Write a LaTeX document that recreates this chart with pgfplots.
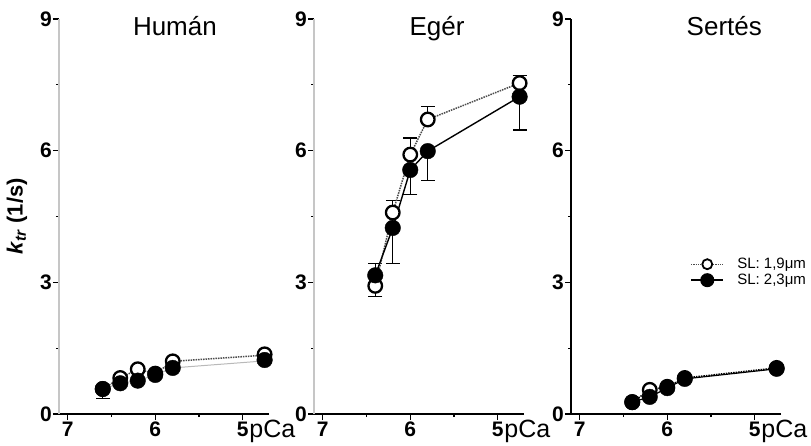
\documentclass[border=0pt]{standalone}
\usepackage{pgfplots}
\pgfplotsset{compat=1.18}
\usepackage{fontspec}
\setmainfont{Liberation Sans}

\tikzset{
  titlestyle/.style={anchor=base, font=\fontsize{26}{26}\selectfont},
  pcastyle/.style={anchor=base west, font=\fontsize{25}{25}\selectfont},
}
\newcommand{\tickfont}{\fontsize{21}{21}\selectfont\bfseries}
\newcommand{\legfont}{\fontsize{15}{17}\selectfont}
\pgfplotsset{
  panel/.style={
    scale only axis, width=210pt, height=395pt,
    xmin=4.7, xmax=7.1, x dir=reverse,
    ymin=0, ymax=9,
    axis x line*=bottom, axis y line*=left,
    xtick={5,6,7}, minor xtick={5.5,6.5},
    ytick={0,3,6,9}, minor ytick={1.5,4.5,7.5},
    tick align=outside,
    major tick length=6pt, minor tick length=3pt,
    tick style={black, line width=1.2pt},
    x axis line style={black, line width=1.5pt},
    y axis line style={gray!45, line width=1.2pt},
    xticklabel={\tickfont\pgfmathprintnumber{\tick}},
    yticklabel={\tickfont\pgfmathprintnumber{\tick}},
    yticklabel style={inner xsep=1pt},
    xticklabel style={inner ysep=2pt},
    /pgf/number format/assume math mode=true,
    clip=false,
    every axis y label/.style={at={(axis description cs:0,0.5)}, xshift=-42pt, rotate=90, anchor=center, font=\fontsize{22}{22}\selectfont\bfseries},
  },
  errp/.style={forget plot, draw=none, mark=none, error bars/.cd, y dir=plus, y explicit,
    error bar style={draw=black, solid, line width=1.2pt},
    error mark options={draw=black, solid, rotate=90, mark size=7pt, line width=1.2pt}},
  errm/.style={forget plot, draw=none, mark=none, error bars/.cd, y dir=minus, y explicit,
    error bar style={draw=black, solid, line width=1.2pt},
    error mark options={draw=black, solid, rotate=90, mark size=7pt, line width=1.2pt}},
  openline/.style={forget plot, densely dotted, gray!60!black, line width=1.5pt, mark=none},
  fillline/.style={forget plot, solid, black, line width=1.4pt, mark=none},
  openmark/.style={forget plot, only marks, mark=*, mark size=6.8pt, mark options={solid, draw=black, fill=white, line width=2.3pt}},
  fillmark/.style={forget plot, only marks, mark=*, mark size=7.8pt, mark options={solid, draw=black, fill=black}},
}

\begin{document}
\begin{tikzpicture}
\useasboundingbox (0,0) rectangle (811pt,445pt);

% ---------------- Human ----------------
\begin{axis}[panel, at={(59pt,31pt)}, anchor=south west,
  ylabel={\textit{k}\textsubscript{\textit{tr}} (1/s)}]
\addplot[errm] coordinates {(6.6,0.57) +- (0,0.21)};
\addplot[openline] coordinates {(6.6,0.57) (6.4,0.82) (6.2,1.02) (6.0,0.92) (5.8,1.20) (4.75,1.34)};
\addplot[fillline, gray!55, line width=1pt] coordinates {(6.6,0.57) (6.4,0.70) (6.2,0.76) (6.0,0.89) (5.8,1.05) (4.75,1.21)};
\addplot[openmark] coordinates {(6.6,0.57) (6.4,0.82) (6.2,1.02) (6.0,0.92) (5.8,1.20) (4.75,1.36)};
\addplot[fillmark] coordinates {(6.6,0.57) (6.4,0.70) (6.2,0.76) (6.0,0.89) (5.8,1.05) (4.75,1.23)};
\node[titlestyle] at (axis description cs:0.552,0.957) {Humán};
\node[pcastyle] at (axis description cs:0.89,0) [yshift=-23pt] {pCa};
\end{axis}

% ---------------- Eger ----------------
\begin{axis}[panel, at={(314pt,31pt)}, anchor=south west]
\addplot[errm] coordinates {(6.4,2.92) +- (0,0.25)};
\addplot[errp] coordinates {(6.2,4.59) +- (0,0.28) (6.0,5.91) +- (0,0.38) (5.8,6.71) +- (0,0.30) (4.75,7.54) +- (0,0.17)};
\addplot[errp] coordinates {(6.4,3.16) +- (0,0.27)};
\addplot[errm] coordinates {(6.2,4.24) +- (0,0.81) (6.0,5.56) +- (0,0.56) (5.8,5.99) +- (0,0.67) (4.75,7.23) +- (0,0.76)};
\addplot[openline] coordinates {(6.4,2.92) (6.2,4.59) (6.0,5.91) (5.8,6.71) (4.75,7.54)};
\addplot[fillline] coordinates {(6.4,3.16) (6.2,4.24) (6.0,5.56) (5.8,5.99) (4.75,7.23)};
\addplot[openmark] coordinates {(6.4,2.92) (6.2,4.59) (6.0,5.91) (5.8,6.71) (4.75,7.54)};
\addplot[fillmark] coordinates {(6.4,3.16) (6.2,4.24) (6.0,5.56) (5.8,5.99) (4.75,7.23)};
\node[titlestyle] at (axis description cs:0.586,0.957) {Egér};
\node[pcastyle] at (axis description cs:0.89,0) [yshift=-23pt] {pCa};
\end{axis}

% ---------------- Sertes ----------------
\begin{axis}[panel, at={(571pt,31pt)}, anchor=south west,
  y axis line style={black, line width=1.2pt},
  legend style={at={(axis description cs:0.567,0.359)}, anchor=west, draw=none, fill=none,
    inner sep=0pt, row sep=2pt, nodes={inner xsep=3pt, inner ysep=1pt}},
  legend cell align=left,
  legend image code/.code={\draw[mark repeat=2, mark phase=2] plot coordinates {(0pt,0pt) (16pt,0pt) (32pt,0pt)}; \path (42pt,0pt);}]
\addlegendimage{densely dotted, gray!60!black, line width=1.2pt, mark=*, mark size=5pt, mark options={solid, draw=black, fill=white, line width=1.8pt}}
\addlegendentry{\legfont SL: 1,9μm}
\addlegendimage{solid, black, line width=2pt, mark=*, mark size=6pt, mark options={solid, fill=black}}
\addlegendentry{\legfont SL: 2,3μm}
\addplot[fillline, line width=1.2pt] coordinates {(6.4,0.27) (6.2,0.39) (6.0,0.59) (5.8,0.80) (4.75,1.03)};
\addplot[openline, black] coordinates {(6.4,0.27) (6.2,0.55) (6.0,0.62) (5.8,0.82) (4.75,1.05)};
\addplot[openmark] coordinates {(6.4,0.27) (6.2,0.55) (6.0,0.62) (5.8,0.82) (4.75,1.05)};
\addplot[fillmark] coordinates {(6.4,0.27) (6.2,0.39) (6.0,0.59) (5.8,0.80) (4.75,1.03)};
\node[titlestyle] at (axis description cs:0.73,0.957) {Sertés};
\node[pcastyle] at (axis description cs:0.89,0) [yshift=-23pt] {pCa};
\end{axis}
\end{tikzpicture}
\end{document}
